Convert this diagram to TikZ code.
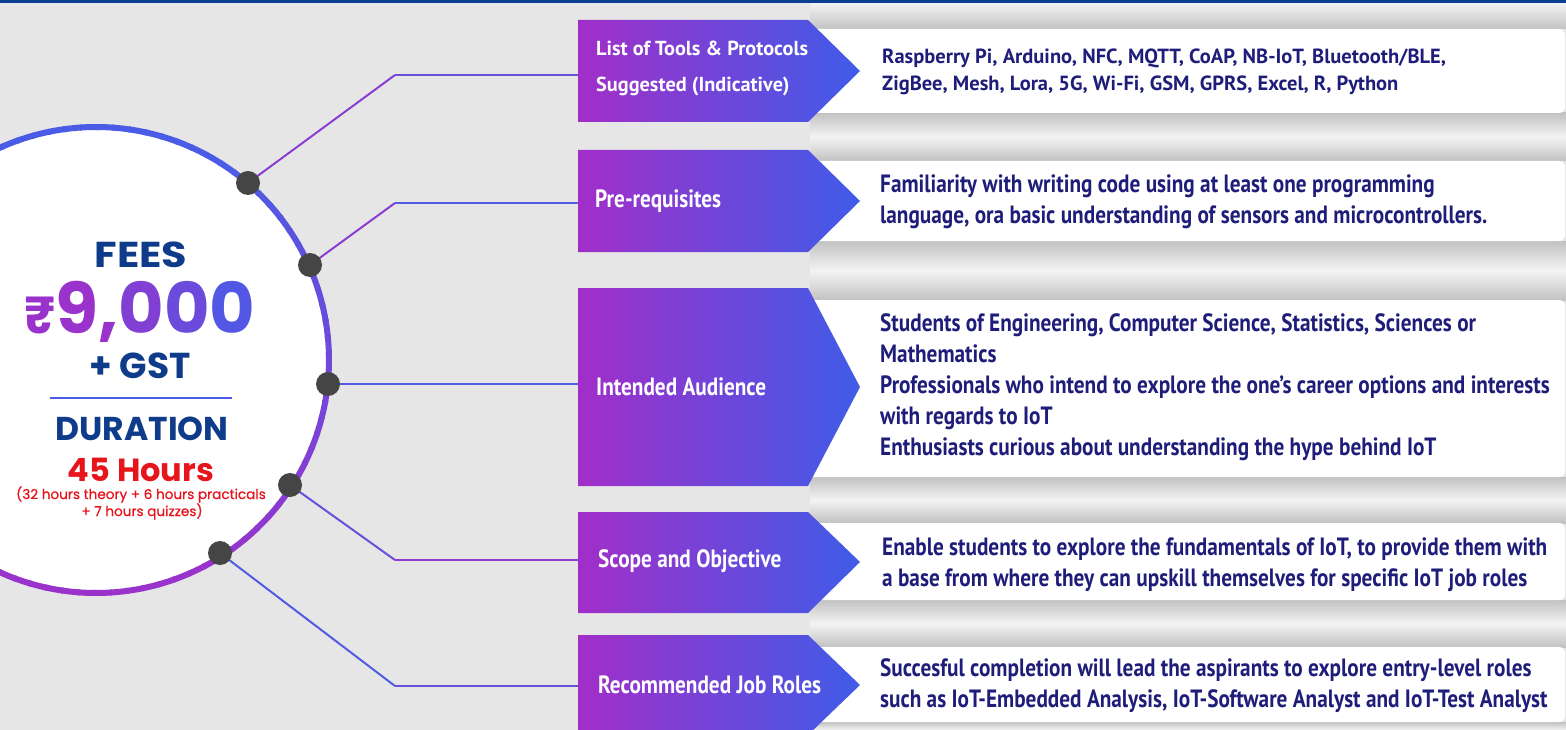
\documentclass[tikz,border=0pt]{standalone}
\usepackage{fontspec}
\setmainfont{PT Sans}
\newfontfamily\cnd[FakeStretch=0.85]{PT Sans}
\newfontfamily\lbf{PT Sans}
\newfontfamily\pop{Poppins}
\newfontfamily\popw[FakeStretch=1.15]{Poppins}
\newfontfamily\popm[FakeBold=0.6]{Poppins}
\usetikzlibrary{calc}
\definecolor{bg}{HTML}{E6E6E6}
\definecolor{topbar}{HTML}{0B3D91}
\definecolor{cblue}{HTML}{4A5CE6}
\definecolor{cpurp}{HTML}{9933CC}
\definecolor{lpurp}{HTML}{A22EC8}
\definecolor{lblue}{HTML}{3F5CE8}
\definecolor{dotc}{HTML}{454545}
\definecolor{navy}{HTML}{1E1E7A}
\definecolor{feesblue}{HTML}{0F3C8A}
\definecolor{hred}{HTML}{E8141B}
\definecolor{lnp}{HTML}{8A3DD0}
\definecolor{lnm}{HTML}{6A4EDC}
\definecolor{lnb}{HTML}{4F5CE3}
\definecolor{shd}{HTML}{C2C2C2}
\definecolor{shl}{HTML}{F3F3F3}
\newcommand\mkgap[2]{%
  \shade[top color=shd,bottom color=shd,middle color=shl] (810,#1) rectangle (1566,#2);}
\newcommand\mkpanel[2]{%
  \fill[white,rounded corners=6] (805,#1) rectangle (1565,#2);}
\newcommand\mklabel[3]{%
  \shade[left color=lpurp,right color=lblue] (578,#1) -- (808,#1) -- (860,#3) -- (808,#2) -- (578,#2) -- cycle;}
\begin{document}
\begin{tikzpicture}[x=1pt,y=-1pt,
  dotst/.style={circle,fill=dotc,minimum size=24pt,inner sep=0pt},
  conn/.style={line width=2pt},
  lbl/.style={text=white,anchor=west,align=left,inner sep=0pt,font=\cnd\bfseries\fontsize{25}{31}\selectfont},
  lblsmall/.style={lbl,font=\lbf\bfseries\fontsize{20.3}{36}\selectfont},
  ptxt/.style={text=navy,anchor=west,align=left,inner sep=0pt,font=\cnd\bfseries\fontsize{25}{31}\selectfont},
  ptxtsmall/.style={ptxt,font=\lbf\bfseries\fontsize{20.5}{27}\selectfont},
  ctxt/.style={anchor=base,inner sep=0pt,font=\pop\bfseries},
]
\useasboundingbox (0,0) rectangle (1566,730);
\fill[bg] (0,0) rectangle (1566,730);

% shadow gaps between panels
\shade[top color=shl,bottom color=shd] (810,3) rectangle (1566,29);
\mkgap{113}{161}
\mkgap{241}{300}
\mkgap{477}{523}
\mkgap{600}{647}
\shade[top color=shd,bottom color=shl] (810,722) rectangle (1566,730);
\fill[topbar] (0,0) rectangle (1566,3);

% panels
\mkpanel{29}{113}
\mkpanel{161}{241}
\mkpanel{300}{477}
\mkpanel{523}{600}
\mkpanel{647}{722}

% label arrows
\mklabel{20}{122}{71}
\mklabel{150}{252}{201}
\mklabel{288}{486}{387}
\mklabel{512}{613}{562}
\mklabel{635}{735}{685}

% circle
\fill[white] (96,360) circle (233);
\foreach \a in {-130,-126,...,126}{
  \pgfmathsetmacro\p{min(100,max(0,50-\a*0.85))}
  \draw[line width=6pt,color=cblue!\p!cpurp] ({96+233*cos(\a)},{360+233*sin(\a)}) arc[start angle=\a,end angle=\a+4.6,radius=233];
}

% connector bends and ends
\coordinate (k1) at (395,75);  \coordinate (e1) at (578,75);
\coordinate (k2) at (395,203); \coordinate (e2) at (578,203);
\coordinate (e3) at (578,384);
\coordinate (k4) at (395,560); \coordinate (e4) at (578,560);
\coordinate (k5) at (395,686); \coordinate (e5) at (578,686);

\coordinate (d1c) at (248,183);
\coordinate (d2c) at (310,265);
\coordinate (d3c) at (328,384);
\coordinate (d4c) at (290,485);
\coordinate (d5c) at (220,553);

\draw[conn,lnp] (d1c) -- (k1); \draw[conn,lnm] (k1) -- (e1);
\draw[conn,lnp] (d2c) -- (k2); \draw[conn,lnb] (k2) -- (e2);
\draw[conn,lnb] (d3c) -- (e3);
\draw[conn,lnm] (d4c) -- (k4); \draw[conn,lnp] (k4) -- (e4);
\draw[conn,lnb] (d5c) -- (k5); \draw[conn,lnm] (k5) -- (e5);

\node[dotst] (d1) at (d1c) {};
\node[dotst] (d2) at (d2c) {};
\node[dotst] (d3) at (d3c) {};
\node[dotst] (d4) at (d4c) {};
\node[dotst] (d5) at (d5c) {};

% circle texts
\node[ctxt,text=feesblue,font=\popw\bfseries\fontsize{36}{40}\selectfont] (fees) at (141,267) {FEES};
\node[ctxt,font=\pop\bfseries\fontsize{70}{72}\selectfont] (price) at (140,333) {\textcolor{cpurp}{{\fontsize{52}{52}\selectfont ₹}9,}\textcolor{cpurp!70!cblue}{0}\textcolor{cpurp!40!cblue}{0}\textcolor{cpurp!10!cblue}{0}};
\node[ctxt,text=feesblue,font=\pop\bfseries\fontsize{36}{40}\selectfont] (gst) at (140,378) {+ GST};
\draw[line width=2pt,cblue] (50,398) -- (232,398);
\node[ctxt,text=feesblue,font=\pop\bfseries\fontsize{33}{36}\selectfont] (dur) at (142,440) {DURATION};
\node[ctxt,text=hred,font=\pop\bfseries\fontsize{32}{34}\selectfont] (hrs) at (141,481) {45 Hours};
\node[ctxt,text=hred,font=\popm\fontsize{13.6}{15}\selectfont] (sub1) at (141,499) {(32 hours theory + 6 hours practicals};
\node[ctxt,text=hred,font=\popm\fontsize{13.6}{15}\selectfont] (sub2) at (142,516) {+ 7 hours quizzes)};

% labels
\node[lblsmall] (l1) at (596,68) {List of Tools \& Protocols\\Suggested (Indicative)};
\node[lbl] (l2) at (595,201) {Pre-requisites};
\node[lbl] (l3) at (596,387) {Intended Audience};
\node[lbl] (l4) at (598,561) {Scope and Objective};
\node[lbl] (l5) at (598,685) {Recommended Job Roles};

% panel texts
\node[ptxtsmall] (p1) at (882,72) {Raspberry Pi, Arduino, NFC, MQTT, CoAP, NB-IoT, Bluetooth/BLE,\\ZigBee, Mesh, Lora, 5G, Wi-Fi, GSM, GPRS, Excel, R, Python};
\node[ptxt] (p2) at (880,202) {Familiarity with writing code using at least one programming\\language, ora basic understanding of sensors and microcontrollers.};
\node[ptxt] (p3) at (880,387) {Students of Engineering, Computer Science, Statistics, Sciences or\\Mathematics\\Professionals who intend to explore the one’s career options and interests\\with regards to IoT\\Enthusiasts curious about understanding the hype behind IoT};
\node[ptxt] (p4) at (882,565) {Enable students to explore the fundamentals of IoT, to provide them with\\a base from where they can upskill themselves for specific IoT job roles};
\node[ptxt] (p5) at (880,686) {Succesful completion will lead the aspirants to explore entry-level roles\\such as IoT-Embedded Analysis, IoT-Software Analyst and IoT-Test Analyst};
\end{tikzpicture}
\end{document}
